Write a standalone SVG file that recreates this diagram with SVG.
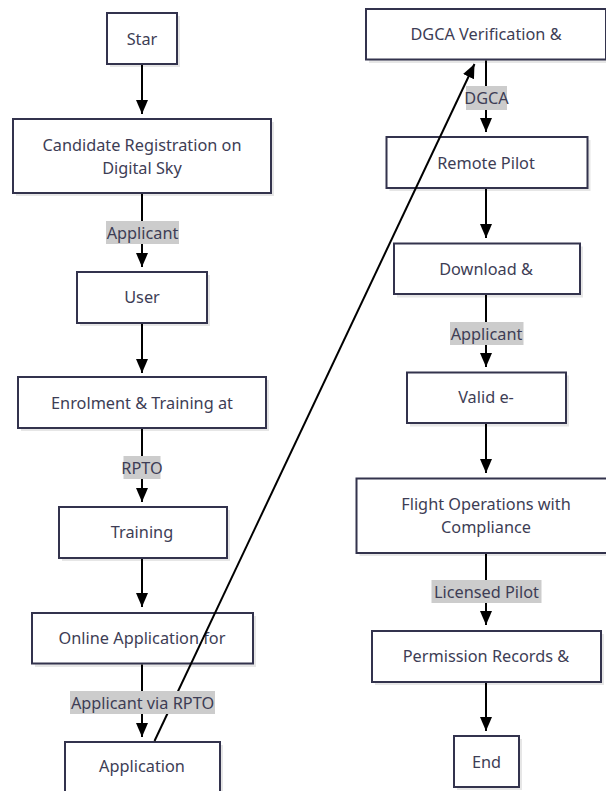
<svg xmlns="http://www.w3.org/2000/svg" width="606" height="791" viewBox="0 0 606 791">
<style>
.box{fill:#fff;stroke:#33334d;stroke-width:2}
.sh{fill:#e6e6e6;stroke:none}
.t{font-family:"Noto Sans","Open Sans",sans-serif;font-size:16.3px;fill:#3d3d55;text-anchor:middle;dominant-baseline:central}
.lb{fill:#cccccc}
.e{stroke:#000;stroke-width:2;fill:none}
</style>
<defs>
<marker id="a" viewBox="0 0 14 12" refX="14" refY="6" markerWidth="14" markerHeight="12" markerUnits="userSpaceOnUse" orient="auto">
<path d="M0,0 L14,6 L0,12 z" fill="#000"/>
</marker>
</defs>
<g id="n-start"><rect class="sh" x="110" y="16" width="70" height="51"/><rect class="box" x="107" y="13" width="70" height="51"/><text class="t" x="142" y="38.5">Star</text></g>
<g id="n-reg"><rect class="sh" x="16" y="122" width="258" height="74"/><rect class="box" x="13" y="119" width="258" height="74"/><text class="t" x="142" y="144.5">Candidate Registration on</text><text class="t" x="142" y="168">Digital Sky</text></g>
<g id="n-user"><rect class="sh" x="80" y="275" width="130" height="51"/><rect class="box" x="77" y="272" width="130" height="51"/><text class="t" x="142" y="297">User</text></g>
<g id="n-enrol"><rect class="sh" x="21" y="380" width="248" height="51"/><rect class="box" x="18" y="377" width="248" height="51"/><text class="t" x="142" y="402.5">Enrolment &amp; Training at</text></g>
<g id="n-training"><rect class="sh" x="62" y="510" width="168" height="51"/><rect class="box" x="59" y="507" width="168" height="51"/><text class="t" x="142" y="532">Training</text></g>
<g id="n-online"><rect class="sh" x="35" y="616" width="221" height="51"/><rect class="box" x="32" y="613" width="221" height="50.5"/><text class="t" x="142" y="637.5">Online Application for</text></g>
<g id="n-app"><rect class="sh" x="68" y="745" width="155" height="60"/><rect class="box" x="65" y="742" width="155" height="60"/><text class="t" x="142" y="766">Application</text></g>
<g id="n-dgca"><rect class="sh" x="369" y="12" width="240" height="51"/><rect class="box" x="366" y="9" width="240" height="50.5"/><text class="t" x="486" y="33.5">DGCA Verification &amp;</text></g>
<g id="n-rp"><rect class="sh" x="389.5" y="140" width="201" height="51"/><rect class="box" x="386.5" y="137" width="201" height="51"/><text class="t" x="486" y="163">Remote Pilot</text></g>
<g id="n-dl"><rect class="sh" x="397" y="246.5" width="186" height="51"/><rect class="box" x="394" y="243.5" width="186" height="50.5"/><text class="t" x="486" y="268.5">Download &amp;</text></g>
<g id="n-valid"><rect class="sh" x="410" y="375.5" width="159" height="51"/><rect class="box" x="407" y="372.5" width="159" height="50.5"/><text class="t" x="486" y="397">Valid e-</text></g>
<g id="n-flight"><rect class="sh" x="359.5" y="481.5" width="260" height="74.5"/><rect class="box" x="356.5" y="478.5" width="260" height="74.5"/><text class="t" x="486" y="503.5">Flight Operations with</text><text class="t" x="486" y="527">Compliance</text></g>
<g id="n-perm"><rect class="sh" x="375" y="634" width="229" height="51"/><rect class="box" x="372" y="631" width="229" height="51"/><text class="t" x="486" y="656">Permission Records &amp;</text></g>
<g id="n-end"><rect class="sh" x="457" y="739" width="65" height="51"/><rect class="box" x="454" y="736" width="65" height="51"/><text class="t" x="486.5" y="761.5">End</text></g>
<g id="connectors">
<line class="e" x1="142" y1="65" x2="142" y2="114" marker-end="url(#a)"/>
<line class="e" x1="142" y1="194" x2="142" y2="267" marker-end="url(#a)"/>
<line class="e" x1="142" y1="324" x2="142" y2="373" marker-end="url(#a)"/>
<line class="e" x1="142" y1="429" x2="142" y2="502" marker-end="url(#a)"/>
<line class="e" x1="142" y1="559" x2="142" y2="607" marker-end="url(#a)"/>
<line class="e" x1="142" y1="664.5" x2="142" y2="737" marker-end="url(#a)"/>
<line class="e" x1="154.5" y1="741" x2="474.5" y2="64" marker-end="url(#a)"/>
<line class="e" x1="486" y1="60.5" x2="486" y2="132" marker-end="url(#a)"/>
<line class="e" x1="486" y1="189" x2="486" y2="238" marker-end="url(#a)"/>
<line class="e" x1="486" y1="295" x2="486" y2="367" marker-end="url(#a)"/>
<line class="e" x1="486" y1="424" x2="486" y2="473" marker-end="url(#a)"/>
<line class="e" x1="486" y1="554" x2="486" y2="625" marker-end="url(#a)"/>
<line class="e" x1="486" y1="683" x2="486" y2="731" marker-end="url(#a)"/>
<rect class="lb" x="106" y="221" width="73" height="23"/>
<text class="t" x="142.5" y="232.5">Applicant</text>
<rect class="lb" x="123.5" y="456" width="37" height="23"/>
<text class="t" x="142" y="467.5">RPTO</text>
<rect class="lb" x="70" y="691" width="145" height="23"/>
<text class="t" x="142.5" y="702.5">Applicant via RPTO</text>
<rect class="lb" x="466" y="86" width="41" height="24"/>
<text class="t" x="486.5" y="98">DGCA</text>
<rect class="lb" x="450" y="322" width="73.5" height="23"/>
<text class="t" x="486.5" y="333.5">Applicant</text>
<rect class="lb" x="431.5" y="580" width="110" height="23"/>
<text class="t" x="486.5" y="591.5">Licensed Pilot</text>
</g>
</svg>
